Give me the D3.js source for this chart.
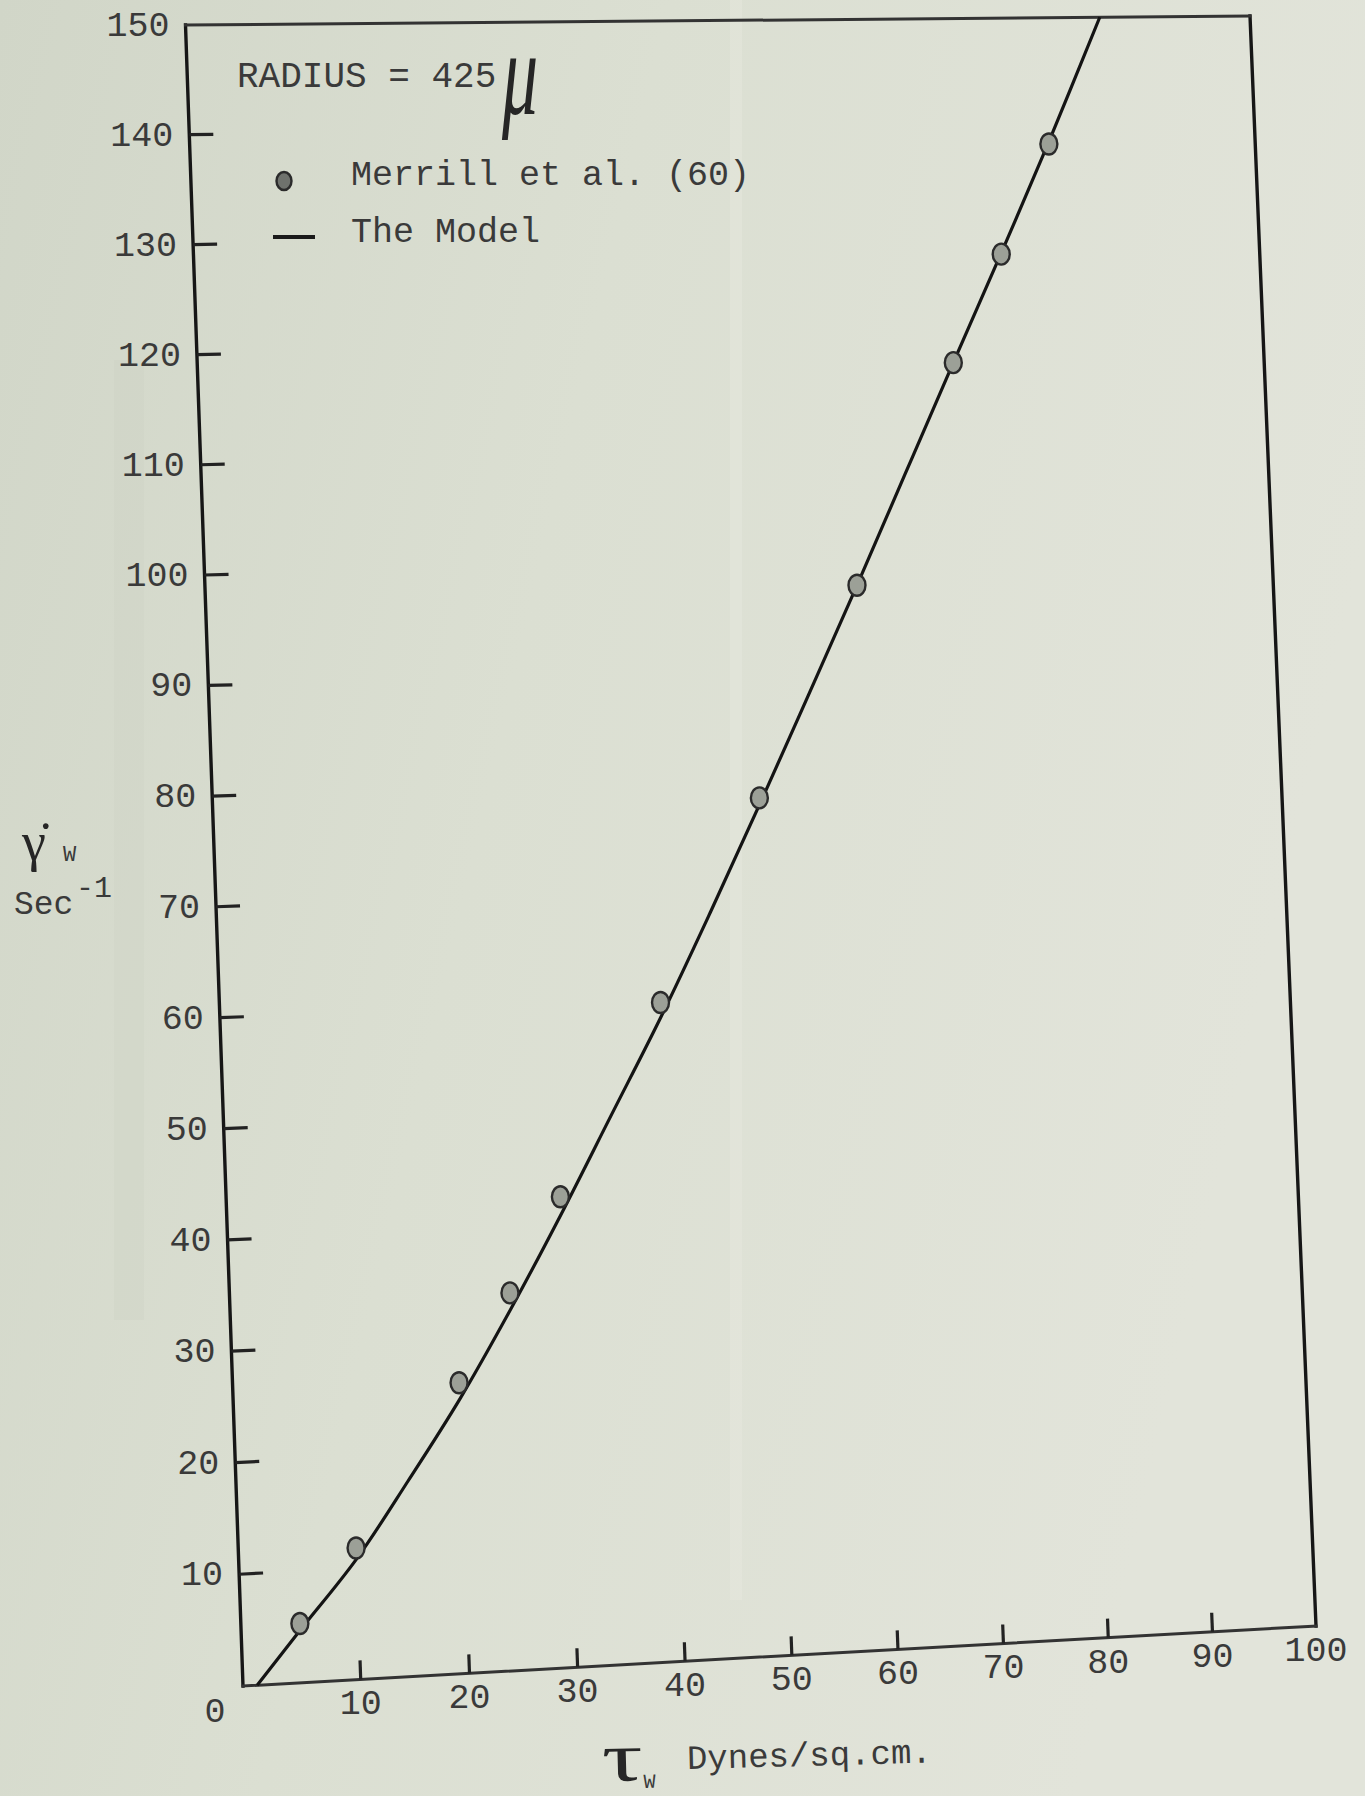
<!DOCTYPE html>
<html lang="en">
<head>
<meta charset="UTF-8">
<title>shear rate vs wall shear stress</title>
<script src="https://cdn.jsdelivr.net/npm/d3@7"></script>
<style>
  body { margin: 0; background: #dcdfd3; }
  svg { display: block; }
  .typed { font-family: "Liberation Mono", "DejaVu Sans Mono", monospace; fill: #3a3a3a; }
  .hand { font-family: "Liberation Serif", "DejaVu Serif", serif; fill: #262626; }
  .edge-v { stroke: #161616; stroke-width: 3.4; stroke-linecap: square; }
  .edge-h { stroke: #333; stroke-width: 3; stroke-linecap: square; }
  .tick { stroke: #222; stroke-width: 3.2; }
  .model { fill: none; stroke: #141414; stroke-width: 3.2; }
  .pt { fill: #9ca097; stroke: #2b2b2b; stroke-width: 2.4; }
</style>
</head>
<body>
<svg id="chart" width="1365" height="1796"></svg>
<script>
// Merrill et al. (60) measurements, radius 425 microns
const merrillTau = [5, 10, 20, 25, 30, 40, 50, 60, 70, 75, 80];
const merrillRate = [5.3, 11.8, 26.2, 34.1, 42.6, 59.9, 78.3, 97.6, 118.0, 128.0, 138.2];

// the model curve
const modelTau = [1.2, 5, 10, 15, 20, 25, 30, 35, 40, 45, 50, 55, 60, 65, 70, 75, 80, 85.4];
const modelRate = [0, 4.7, 10.8, 17.6, 24.7, 32.6, 41.0, 49.8, 58.6, 68.0, 77.7, 87.6, 97.6, 107.8, 118.0, 128.1, 138.4, 150];

const xTicks = [10, 20, 30, 40, 50, 60, 70, 80, 90];
const xTickLabels = ["10", "20", "30", "40", "50", "60", "70", "80", "90", "100"];
const yTicks = [10, 20, 30, 40, 50, 60, 70, 80, 90, 100, 110, 120, 130, 140];
const yTickLabels = ["10", "20", "30", "40", "50", "60", "70", "80", "90", "100", "110", "120", "130", "140", "150"];

const svg = d3.select("#chart");

// paper
const defs = svg.append("defs");
const grad = defs.append("linearGradient").attr("id", "paper")
    .attr("x1", "0").attr("x2", "1").attr("y1", "0").attr("y2", "0.3");
grad.append("stop").attr("offset", "0").attr("stop-color", "#d1d6c8");
grad.append("stop").attr("offset", "0.45").attr("stop-color", "#dbdfd2");
grad.append("stop").attr("offset", "1").attr("stop-color", "#e2e4da");
svg.append("rect").attr("width", 1365).attr("height", 1796).attr("fill", "url(#paper)");
svg.append("rect").attr("x", 114).attr("y", 360).attr("width", 30).attr("height", 960)
    .attr("fill", "#c9cfc0").attr("opacity", 0.22);
svg.append("rect").attr("x", 730).attr("y", 0).attr("width", 12).attr("height", 1600)
    .attr("fill", "#eef0e8").attr("opacity", 0.25);

// the sheet was photographed at a slant, so the plot rectangle is warped
// into the quadrilateral seen on the page
const frameCorners = { bl: [243, 1686], br: [1316, 1626], tr: [1250, 16], tl: [185.5, 25] };

function makeWarp(c) {
    const [x0, y0] = c.bl, [x1, y1] = c.br, [x2, y2] = c.tr, [x3, y3] = c.tl;
    const dx1 = x1 - x2, dx2 = x3 - x2, dx3 = x0 - x1 + x2 - x3;
    const dy1 = y1 - y2, dy2 = y3 - y2, dy3 = y0 - y1 + y2 - y3;
    const den = dx1 * dy2 - dx2 * dy1;
    const g = (dx3 * dy2 - dx2 * dy3) / den;
    const h = (dx1 * dy3 - dx3 * dy1) / den;
    const a = x1 - x0 + g * x1, b = x3 - x0 + h * x3;
    const d = y1 - y0 + g * y1, e = y3 - y0 + h * y3;
    return function (u, v) {
        const w = g * u + h * v + 1;
        return [(a * u + b * v + x0) / w, (d * u + e * v + y0) / w];
    };
}
const warp = makeWarp(frameCorners);

// hand-ruled axis: the first division is drawn a little wider than the rest
const x = d3.scaleLinear().domain([0, 10, 100]).range([0, 0.1067, 1]);
const y = d3.scaleLinear().domain([0, 150]).range([0, 1]);
const P = (tau, rate) => warp(x(tau), y(rate));

function unit(p, q) {
    const dx = q[0] - p[0], dy = q[1] - p[1], l = Math.hypot(dx, dy);
    return [dx / l, dy / l];
}

const [xMin, xMax] = d3.extent(x.domain()), [yMin, yMax] = d3.extent(y.domain());

// frame
const g = svg.append("g");
const edges = [
    { a: P(xMin, yMin), b: P(xMin, yMax), cls: "edge-v" },
    { a: P(xMax, yMin), b: P(xMax, yMax), cls: "edge-v" },
    { a: P(xMin, yMin), b: P(xMax, yMin), cls: "edge-h" },
    { a: P(xMin, yMax), b: P(xMax, yMax), cls: "edge-h" }
];
g.selectAll("line.edge").data(edges).enter().append("line")
    .attr("class", d => d.cls)
    .attr("x1", d => d.a[0]).attr("y1", d => d.a[1])
    .attr("x2", d => d.b[0]).attr("y2", d => d.b[1]);

// x ticks point up into the plot
g.selectAll("line.xt").data(xTicks).enter().append("line")
    .attr("class", "tick")
    .each(function (t) {
        const p = P(t, yMin), u = unit(p, P(t, yMax));
        d3.select(this).attr("x1", p[0]).attr("y1", p[1])
            .attr("x2", p[0] + u[0] * 19).attr("y2", p[1] + u[1] * 19);
    });

// y ticks point right into the plot
g.selectAll("line.yt").data(yTicks).enter().append("line")
    .attr("class", "tick")
    .each(function (t) {
        const p = P(xMin, t), u = unit(p, P(xMax, t));
        d3.select(this).attr("x1", p[0]).attr("y1", p[1])
            .attr("x2", p[0] + u[0] * 24).attr("y2", p[1] + u[1] * 24);
    });

// tick labels
const xLabelVals = xTicks.concat([xMax]);
g.selectAll("text.xl").data(xLabelVals).enter().append("text")
    .attr("class", "typed")
    .attr("font-size", 35)
    .attr("text-anchor", "middle")
    .attr("dominant-baseline", "central")
    .attr("x", d => P(d, yMin)[0])
    .attr("y", d => P(d, yMin)[1] + 26)
    .text((d, i) => xTickLabels[i]);

const yLabelVals = yTicks.concat([yMax]);
g.selectAll("text.yl").data(yLabelVals).enter().append("text")
    .attr("class", "typed")
    .attr("font-size", 35)
    .attr("text-anchor", "end")
    .attr("dominant-baseline", "central")
    .attr("x", d => P(xMin, d)[0] - 16)
    .attr("y", d => P(xMin, d)[1] + 2)
    .text((d, i) => yTickLabels[i]);

const origin = P(xMin, yMin);
g.append("text").attr("class", "typed").attr("font-size", 35)
    .attr("text-anchor", "middle").attr("dominant-baseline", "central")
    .attr("x", origin[0] - 28).attr("y", origin[1] + 27).text("0");

// model curve
const modelPts = modelTau.map((t, i) => P(t, modelRate[i]));
g.append("path").attr("class", "model")
    .attr("d", d3.line().curve(d3.curveCatmullRom.alpha(0.5))(modelPts));

// measurements
g.selectAll("ellipse.pt").data(merrillTau).enter().append("ellipse")
    .attr("class", "pt")
    .attr("cx", (d, i) => P(d, merrillRate[i])[0])
    .attr("cy", (d, i) => P(d, merrillRate[i])[1])
    .attr("rx", 8.5).attr("ry", 10.5);

// legend
const leg = svg.append("g");
leg.append("text").attr("class", "typed").attr("font-size", 36)
    .attr("x", 237).attr("y", 87).text("RADIUS = 425");
leg.append("text").attr("class", "hand").attr("font-size", 100).attr("font-style", "italic")
    .attr("font-weight", 300)
    .attr("transform", "translate(502,114) scale(0.72,1.2)").text("μ");
leg.append("ellipse").attr("cx", 284).attr("cy", 181).attr("rx", 7.5).attr("ry", 9)
    .attr("fill", "#6f726d").attr("stroke", "#2b2b2b").attr("stroke-width", 2.4);
leg.append("text").attr("class", "typed").attr("font-size", 35)
    .attr("x", 351).attr("y", 185).text("Merrill et al. (60)");
leg.append("line").attr("x1", 273).attr("x2", 315).attr("y1", 237).attr("y2", 237)
    .attr("stroke", "#1a1a1a").attr("stroke-width", 4);
leg.append("text").attr("class", "typed").attr("font-size", 35)
    .attr("x", 351).attr("y", 242).text("The Model");

// axis titles
const yt = svg.append("g");
yt.append("text").attr("class", "hand").attr("font-size", 54)
    .attr("x", 22).attr("y", 860).text("γ̇");
yt.append("text").attr("class", "typed").attr("font-size", 22)
    .attr("x", 63).attr("y", 861).text("W");
yt.append("text").attr("class", "typed").attr("font-size", 33)
    .attr("x", 14).attr("y", 914).text("Sec");
yt.append("text").attr("class", "typed").attr("font-size", 30)
    .attr("x", 76).attr("y", 897).text("-1");

const xt = svg.append("g").attr("transform", "rotate(-1.5 800 1760)");
xt.append("text").attr("class", "hand").attr("font-size", 70)
    .attr("transform", "translate(602,1776) scale(1.45,1)").text("τ");
xt.append("text").attr("class", "typed").attr("font-size", 20)
    .attr("x", 643).attr("y", 1784).text("W");
xt.append("text").attr("class", "typed").attr("font-size", 34)
    .attr("x", 687).attr("y", 1766).text("Dynes/sq.cm.");
</script>
</body>
</html>
